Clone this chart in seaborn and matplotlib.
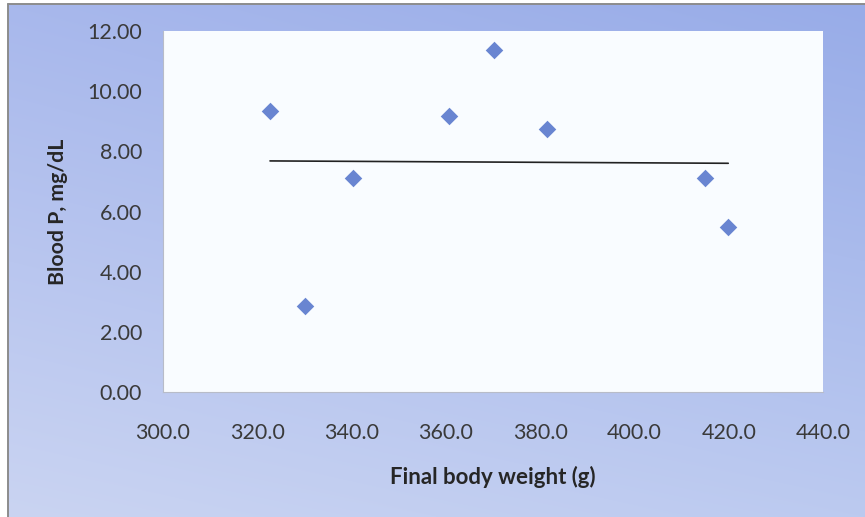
import numpy as np
import pandas as pd
import matplotlib
matplotlib.use("Agg")
import matplotlib.pyplot as plt
import seaborn as sns

# Final body weight (g) and blood phosphorus (mg/dL) per animal
body_weight = [322.7, 330.1, 340.2, 360.7, 370.2, 381.5, 415.0, 419.9]
blood_p = [9.35, 2.86, 7.10, 9.18, 11.37, 8.73, 7.10, 5.47]

x_ticks = [300, 320, 340, 360, 380, 400, 420, 440]
y_ticks = [0, 2, 4, 6, 8, 10, 12]

df = pd.DataFrame({"weight": body_weight, "phos": blood_p})

sns.set_theme(style="white")
plt.rcParams["font.family"] = ["Lato", "DejaVu Sans"]

W, H = 865, 517
fig = plt.figure(figsize=(W / 100, H / 100), dpi=100)
fig.patch.set_facecolor("white")

# Gradient chart-area background with thin grey frame
bg = fig.add_axes([0, 0, 1, 1], zorder=-2)
bg.set_xlim(0, W)
bg.set_ylim(H, 0)
bg.axis("off")
tl = np.array([168, 184, 236]) / 255
tr = np.array([152, 172, 232]) / 255
bl = np.array([202, 212, 242]) / 255
br = np.array([188, 202, 240]) / 255
u = np.linspace(0, 1, 200)[None, :, None]
v = np.linspace(0, 1, 120)[:, None, None]
grad = (1 - v) * ((1 - u) * tl + u * tr) + v * ((1 - u) * bl + u * br)
bg.imshow(grad, extent=(8, W + 2, H + 2, 4), aspect="auto", interpolation="bilinear")
bg.plot([8, 8], [H, 4], color="#8c8c8c", lw=1.4)
bg.plot([8, W], [4, 4], color="#8c8c8c", lw=1.4)

# Plot area
left, right, top, bottom = 163, 823, 31, 392
ax = fig.add_axes([left / W, 1 - bottom / H, (right - left) / W, (bottom - top) / H])
ax.set_facecolor("#f9fcff")

sns.regplot(
    data=df, x="weight", y="phos", ax=ax, ci=None, truncate=True,
    marker="D",
    scatter_kws={"s": 80, "color": "#4568c6", "linewidths": 0, "zorder": 3},
    line_kws={"color": "#222222", "lw": 1.2, "zorder": 2},
)

ax.set_xlim(300, 440)
ax.set_ylim(0, 12)
ax.set_xticks(x_ticks)
ax.set_yticks(y_ticks)
ax.set_xticklabels([f"{t:.1f}" for t in x_ticks])
ax.set_yticklabels([f"{t:.2f}" for t in y_ticks])
ax.tick_params(axis="both", length=0, labelsize=15.5, labelcolor="#3a3a3a")
ax.tick_params(axis="y", pad=15)
ax.tick_params(axis="x", pad=22)

for side in ["top", "right"]:
    ax.spines[side].set_visible(False)
for side in ["left", "bottom"]:
    ax.spines[side].set_color("#b8bcc8")
    ax.spines[side].set_linewidth(0.8)

ax.set_xlabel("Final body weight (g)", fontsize=16, fontweight="bold",
              color="#262626", labelpad=17)
ax.set_ylabel("Blood P, mg/dL", fontsize=15.3, fontweight="bold",
              color="#262626", labelpad=14)

fig.savefig("out.png", dpi=100)
